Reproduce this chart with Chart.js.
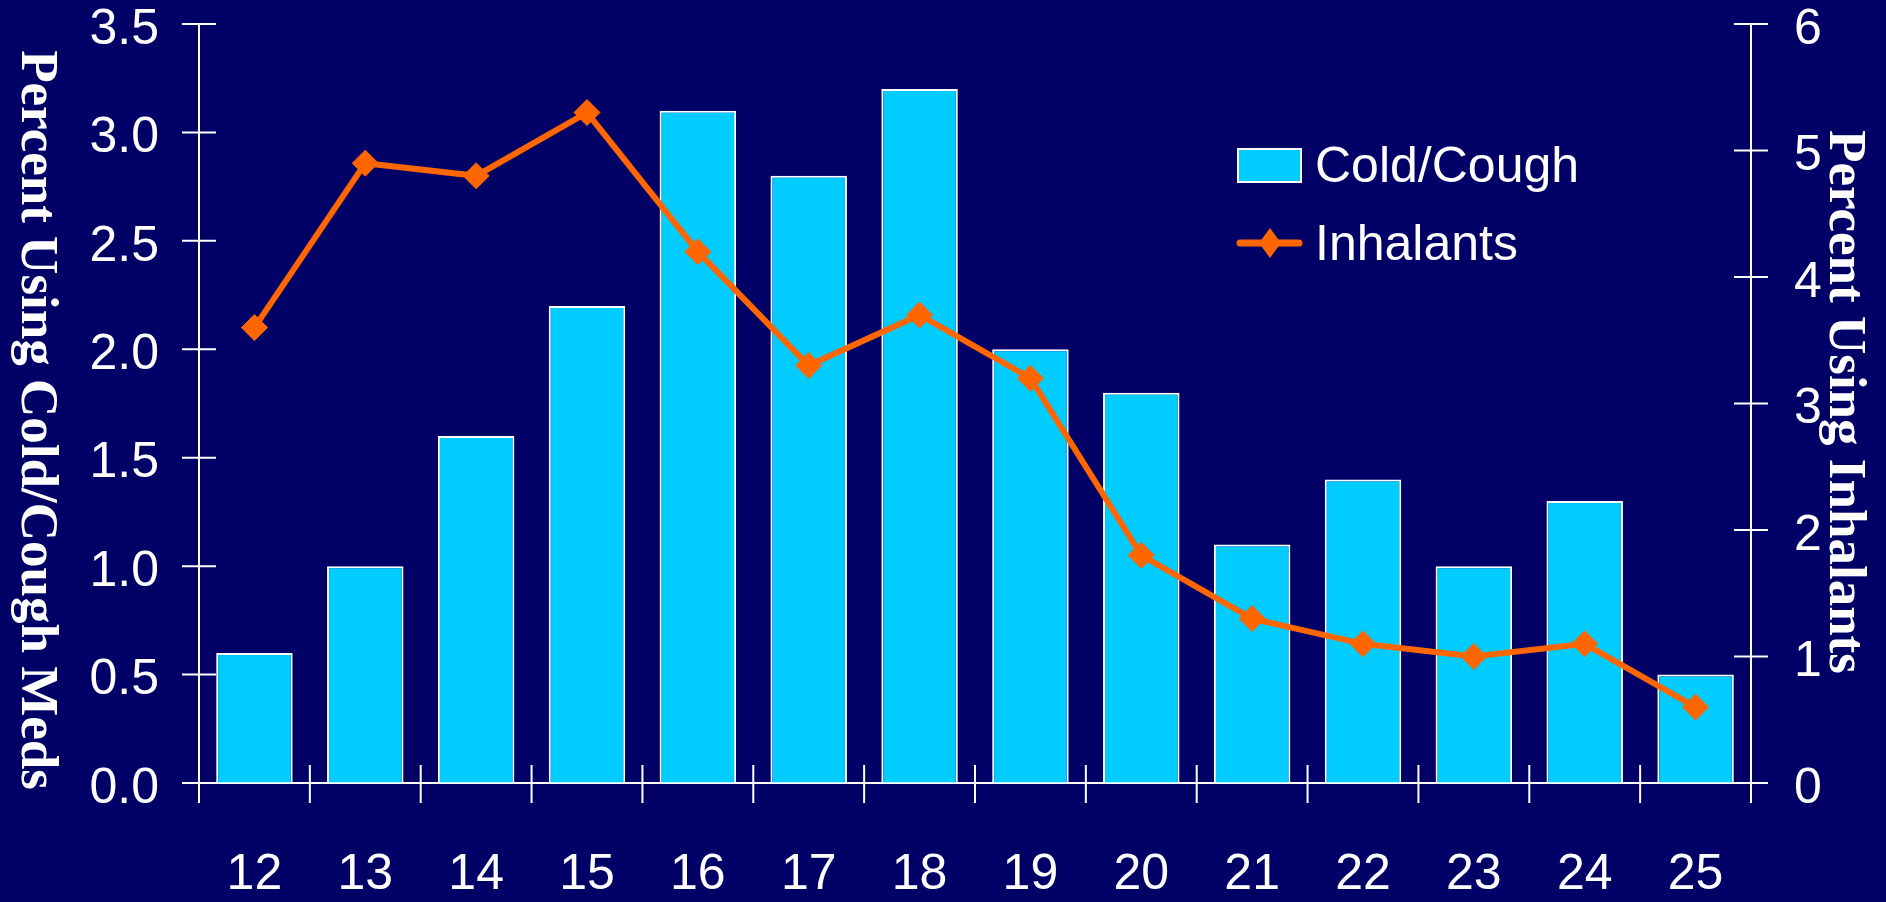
<!DOCTYPE html>
<html>
<head>
<meta charset="utf-8">
<script src="https://cdn.jsdelivr.net/npm/chart.js@4.4.0/dist/chart.umd.min.js"></script>
<style>
  html, body { margin: 0; padding: 0; background: #000066; }
  canvas { display: block; }
</style>
</head>
<body>
<canvas id="canvas" width="1886" height="902"></canvas>
<script>
var ages = ['12', '13', '14', '15', '16', '17', '18', '19', '20', '21', '22', '23', '24', '25'];
var coldCough = [0.6, 1.0, 1.6, 2.2, 3.1, 2.8, 3.2, 2.0, 1.8, 1.1, 1.4, 1.0, 1.3, 0.5];
var inhalants = [3.6, 4.9, 4.8, 5.3, 4.2, 3.3, 3.7, 3.2, 1.8, 1.3, 1.1, 1.0, 1.1, 0.6];
var leftTitle = 'Percent Using Cold/Cough Meds';
var rightTitle = 'Percent Using Inhalants';

var barColor = '#00CCFF';
var lineColor = '#FF6600';
var tickFont = { family: "'Liberation Sans', Arial, sans-serif", size: 50, lineHeight: 1.2 };
var textFont = "50px 'Liberation Sans', Arial, sans-serif";
var titleFont = "bold 53px 'Liberation Serif', 'Times New Roman', serif";

// ticks that cross the axis lines, like the original slide
var crossTicks = {
    id: 'crossTicks',
    beforeDatasetsDraw: function(chart) {
        var ctx = chart.ctx, a = chart.chartArea;
        var sx = chart.scales.x, sy = chart.scales.y, sy2 = chart.scales.y2;
        ctx.save();
        ctx.strokeStyle = '#fff';
        ctx.lineWidth = 2;
        ctx.beginPath();
        sy.ticks.forEach(function(t, i) {
            var p = sy.getPixelForTick(i);
            ctx.moveTo(a.left - 17, p); ctx.lineTo(a.left + 17, p);
        });
        sy2.ticks.forEach(function(t, i) {
            var p = sy2.getPixelForTick(i);
            ctx.moveTo(a.right - 17, p); ctx.lineTo(a.right + 17, p);
        });
        for (var i = 0; i <= ages.length; i++) {
            var p = sx.getPixelForValue(i - 0.5);
            ctx.moveTo(p, a.bottom - 18); ctx.lineTo(p, a.bottom + 20);
        }
        ctx.stroke();
        ctx.restore();
    }
};

// both axis titles read top to bottom, and the legend sits inside the plot
var slideText = {
    id: 'slideText',
    afterDraw: function(chart) {
        var ctx = chart.ctx;
        ctx.save();
        ctx.fillStyle = '#fff';
        ctx.font = titleFont;
        ctx.textAlign = 'center';
        ctx.textBaseline = 'alphabetic';
        ctx.save(); ctx.translate(22, 420); ctx.rotate(Math.PI / 2); ctx.fillText(leftTitle, 0, 0); ctx.restore();
        ctx.save(); ctx.translate(1830, 402); ctx.rotate(Math.PI / 2); ctx.fillText(rightTitle, 0, 0); ctx.restore();

        // legend
        ctx.fillStyle = barColor;
        ctx.fillRect(1238, 149, 63, 33);
        ctx.strokeStyle = '#fff';
        ctx.lineWidth = 2;
        ctx.strokeRect(1238, 149, 63, 33);

        ctx.strokeStyle = lineColor;
        ctx.lineWidth = 7;
        ctx.lineCap = 'round';
        ctx.beginPath(); ctx.moveTo(1240, 243); ctx.lineTo(1299, 243); ctx.stroke();
        ctx.fillStyle = lineColor;
        ctx.beginPath();
        ctx.moveTo(1259, 243); ctx.lineTo(1270, 228); ctx.lineTo(1281, 243); ctx.lineTo(1270, 258);
        ctx.closePath(); ctx.fill();

        ctx.fillStyle = '#fff';
        ctx.font = textFont;
        ctx.textAlign = 'left';
        ctx.textBaseline = 'middle';
        ctx.fillText(chart.data.datasets[0].label, 1315, 168);
        ctx.fillText(chart.data.datasets[1].label, 1315, 246);
        ctx.restore();
    }
};

window.onload = function() {
    var ctx = document.getElementById('canvas').getContext('2d');
    new Chart(ctx, {
        type: 'bar',
        data: {
            labels: ages,
            datasets: [{
                label: 'Cold/Cough',
                data: coldCough,
                backgroundColor: barColor,
                borderColor: '#fff',
                borderWidth: 2,
                barPercentage: 0.69,
                categoryPercentage: 1,
                yAxisID: 'y',
                order: 2
            }, {
                type: 'line',
                label: 'Inhalants',
                data: inhalants,
                borderColor: lineColor,
                backgroundColor: lineColor,
                borderWidth: 6,
                tension: 0,
                pointStyle: 'rectRot',
                pointRadius: 13,
                pointBorderWidth: 1,
                pointBackgroundColor: lineColor,
                pointBorderColor: lineColor,
                yAxisID: 'y2',
                order: 1
            }]
        },
        options: {
            responsive: false,
            animation: false,
            layout: { padding: { top: 24, left: 0, right: 0, bottom: 0 } },
            plugins: {
                legend: { display: false },
                tooltip: { enabled: false }
            },
            scales: {
                x: {
                    grid: { drawOnChartArea: false, drawTicks: false },
                    border: { display: true, color: '#fff', width: 2 },
                    ticks: { color: '#fff', font: tickFont, padding: 62, maxRotation: 0, autoSkip: false },
                    afterFit: function(s) { s.height = 119; s.paddingLeft = 0; s.paddingRight = 0; }
                },
                y: {
                    position: 'left',
                    min: 0,
                    max: 3.5,
                    grid: { drawOnChartArea: false, drawTicks: false },
                    border: { display: true, color: '#fff', width: 2 },
                    ticks: {
                        stepSize: 0.5,
                        color: '#fff',
                        font: tickFont,
                        padding: 40,
                        labelOffset: 6,
                        callback: function(v) { return v.toFixed(1); }
                    },
                    afterFit: function(s) { s.width = 199; s.paddingTop = 0; s.paddingBottom = 0; }
                },
                y2: {
                    position: 'right',
                    min: 0,
                    max: 6,
                    grid: { drawOnChartArea: false, drawTicks: false },
                    border: { display: true, color: '#fff', width: 2 },
                    ticks: { stepSize: 1, color: '#fff', font: tickFont, padding: 43, labelOffset: 6 },
                    afterFit: function(s) { s.width = 135; s.paddingTop = 0; s.paddingBottom = 0; }
                }
            }
        },
        plugins: [crossTicks, slideText]
    });
};
</script>
</body>
</html>
